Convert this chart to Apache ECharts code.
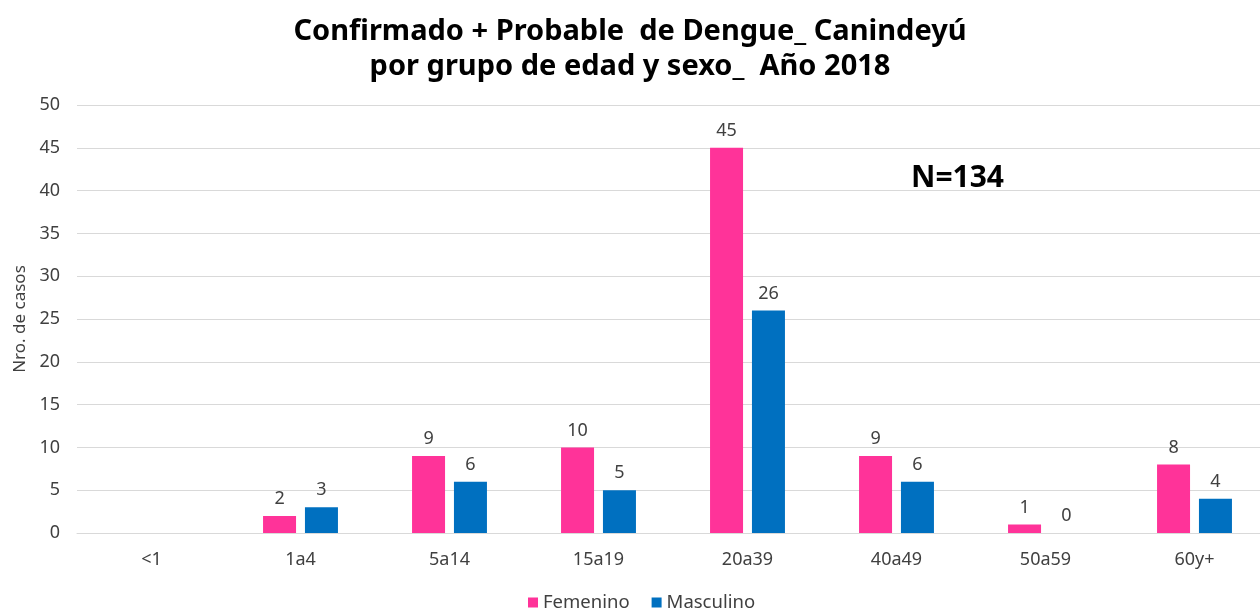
<!DOCTYPE html>
<html>
<head>
<meta charset="utf-8">
<script src="https://cdn.jsdelivr.net/npm/echarts@6/dist/echarts.min.js"></script>
<style>
html, body { margin: 0; padding: 0; background: #fff; }
#main { width: 1260px; height: 608px; }
</style>
</head>
<body>
<div id="main"></div>
<script>
const grupos = ['<1', '1a4', '5a14', '15a19', '20a39', '40a49', '50a59', '60y+'];
const femenino = [null, 2, 9, 10, 45, 9, 1, 8];
const masculino = [null, 3, 6, 5, 26, 6, 0, 4];
const titulo = 'Confirmado + Probable  de Dengue_ Canindeyú\npor grupo de edad y sexo_  Año 2018';
const totalTexto = 'N=134';

let myChart = echarts.init(document.getElementById('main'));

const fuente = '"Noto Sans", "Open Sans", sans-serif';

const etiqueta = {
    show: true,
    position: 'top',
    distance: 8,
    color: '#404040',
    fontSize: 18,
    fontFamily: fuente
};

option = {
    backgroundColor: '#fff',
    animation: false,
    color: ['#FF3399', '#0070C0'],
    title: {
        text: titulo,
        left: 'center',
        top: 9,
        textStyle: {
            color: '#000',
            fontSize: 29,
            fontWeight: 'bold',
            fontFamily: fuente,
            lineHeight: 35
        }
    },
    graphic: [{
        type: 'text',
        left: 911,
        top: 163,
        style: {
            text: totalTexto,
            fill: '#000',
            font: 'bold 30px "Noto Sans", sans-serif'
        }
    }],
    legend: {
        top: 588,
        left: 523,
        itemWidth: 10,
        itemHeight: 10,
        itemGap: 22,
        icon: 'rect',
        data: ['Femenino', 'Masculino'],
        textStyle: {
            color: '#404040',
            fontSize: 18.5,
            fontFamily: fuente
        }
    },
    grid: {
        left: 77,
        width: 1192,
        top: 105,
        bottom: 75,
        containLabel: false,
        outerBoundsMode: 'none'
    },
    xAxis: {
        type: 'category',
        data: grupos,
        axisLine: { lineStyle: { color: '#d9d9d9' } },
        axisTick: { show: false },
        axisLabel: {
            color: '#404040',
            fontSize: 18,
            fontFamily: fuente,
            margin: 18
        }
    },
    yAxis: {
        type: 'value',
        min: 0,
        max: 50,
        interval: 5,
        name: 'Nro. de casos',
        nameLocation: 'middle',
        nameGap: 48,
        nameTextStyle: {
            color: '#404040',
            fontSize: 17,
            fontFamily: fuente
        },
        axisLine: { show: false },
        axisTick: { show: false },
        axisLabel: {
            color: '#404040',
            fontSize: 18,
            fontFamily: fuente,
            margin: 17
        },
        splitLine: { lineStyle: { color: '#d9d9d9' } }
    },
    series: [
        {
            name: 'Femenino',
            type: 'bar',
            data: femenino,
            barWidth: 33,
            barGap: '27%',
            label: etiqueta
        },
        {
            name: 'Masculino',
            type: 'bar',
            data: masculino,
            barWidth: 33,
            label: etiqueta
        }
    ]
};

myChart.setOption(option);
</script>
</body>
</html>
